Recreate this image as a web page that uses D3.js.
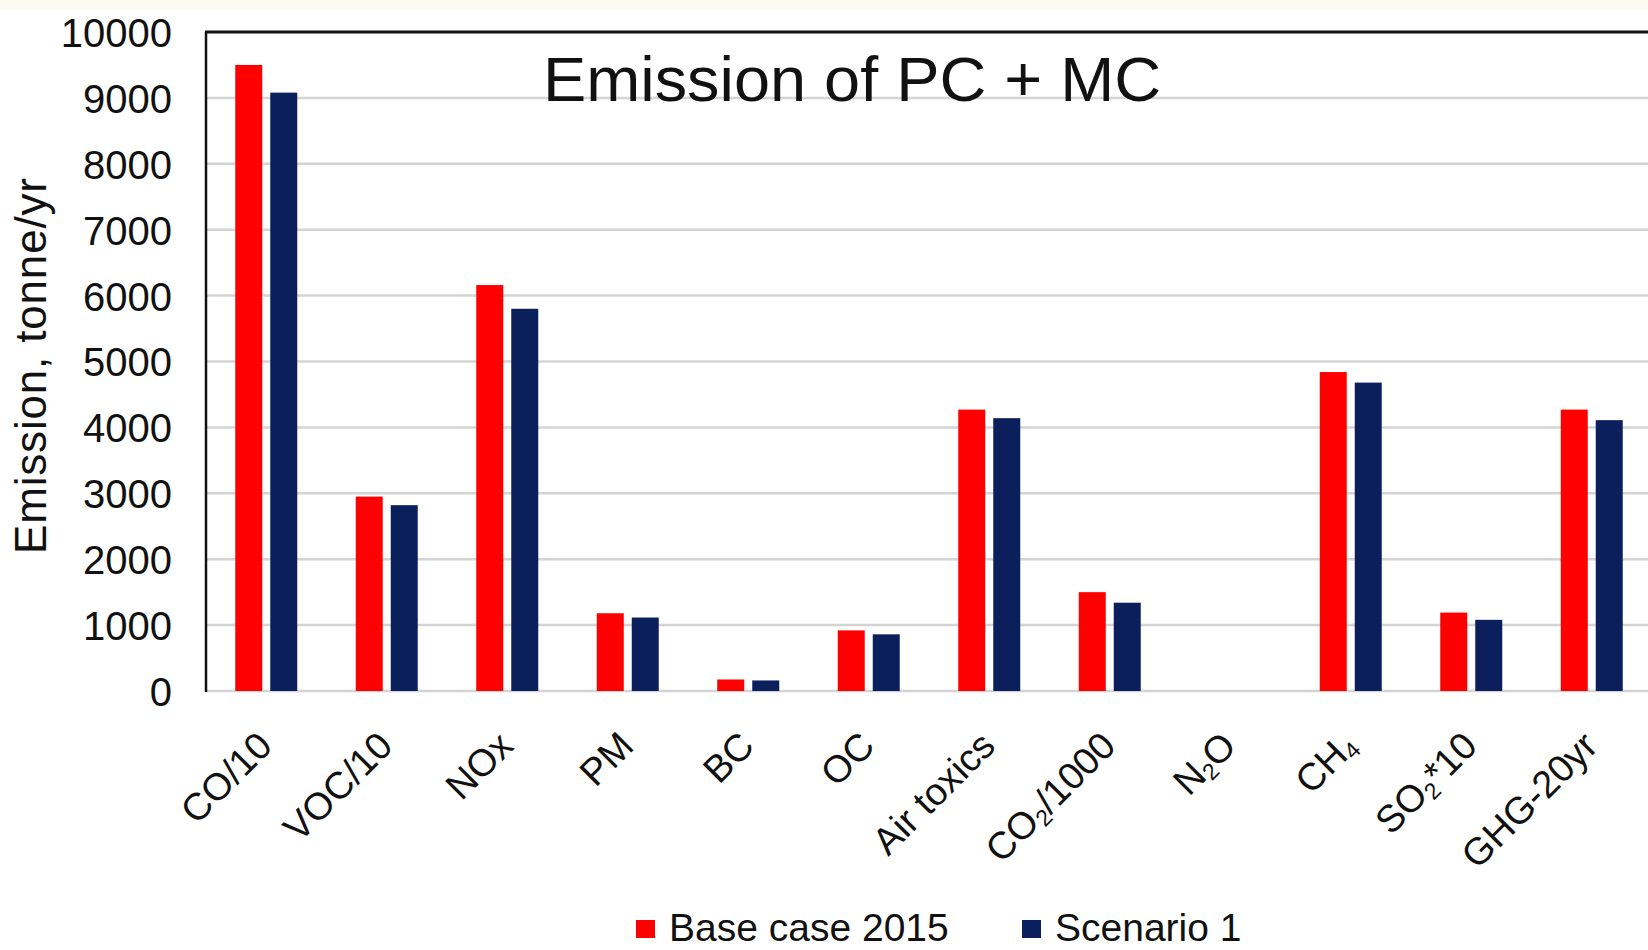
<!DOCTYPE html>
<html>
<head>
<meta charset="utf-8">
<script src="https://cdn.jsdelivr.net/npm/d3@7"></script>
<style>
  html, body { margin: 0; padding: 0; background: #ffffff; }
  svg { display: block; }
  text { font-family: "Liberation Sans", Arial, sans-serif; fill: #111; }
</style>
</head>
<body>
<svg id="chart" width="1648" height="950"></svg>
<script>
// ---- data ----
const categories = ["CO/10", "VOC/10", "NOx", "PM", "BC", "OC", "Air toxics", "CO_2/1000", "N_2O", "CH_4", "SO_2*10", "GHG-20yr"];
const seriesNames = ["Base case 2015", "Scenario 1"];
const baseCase2015 = [9500, 2950, 6160, 1180, 175, 920, 4270, 1500, 0, 4840, 1190, 4270];
const scenario1 = [9080, 2820, 5800, 1115, 160, 860, 4140, 1340, 0, 4680, 1080, 4110];
const yTicks = [0, 1000, 2000, 3000, 4000, 5000, 6000, 7000, 8000, 9000, 10000];
const colors = ["#ff0000", "#0b1f5c"];
const titleText = "Emission of PC + MC";
const yTitle = "Emission, tonne/yr";

const svg = d3.select("#chart");

// faint cream strip at the very top
svg.append("rect").attr("x", 0).attr("y", 0).attr("width", 1648).attr("height", 9).attr("fill", "#fcfaf1");

const left = 206, step = 120.5;
const x0 = d3.scaleBand().domain(categories).range([left, left + step * categories.length]).padding(0);
const x1 = d3.scaleBand().domain(seriesNames).range([0, x0.bandwidth()]).paddingInner(0.2286).paddingOuter(0.836);
const y = d3.scaleLinear().domain([0, 10000]).range([691, 32]);

// gridlines
svg.append("g").selectAll("line").data(yTicks.filter(t => t < 10000)).join("line")
  .attr("x1", left).attr("x2", 1660)
  .attr("y1", d => y(d)).attr("y2", d => y(d))
  .attr("stroke", "#d4d4d4").attr("stroke-width", 2.5);

// bars
const data = categories.map((c, i) => ({ cat: c, vals: [baseCase2015[i], scenario1[i]] }));
const groups = svg.append("g").selectAll("g").data(data).join("g")
  .attr("transform", d => `translate(${x0(d.cat)},0)`);
groups.selectAll("rect").data(d => d.vals.map((v, k) => ({ v, k })).filter(o => o.v > 0)).join("rect")
  .attr("x", o => x1(seriesNames[o.k]))
  .attr("width", x1.bandwidth())
  .attr("y", o => y(o.v))
  .attr("height", o => y(0) - y(o.v))
  .attr("fill", o => colors[o.k]);

// plot frame: top border (black), left axis
svg.append("line").attr("x1", left - 1).attr("x2", 1660).attr("y1", y(10000)).attr("y2", y(10000))
  .attr("stroke", "#111").attr("stroke-width", 3);
svg.append("line").attr("x1", left).attr("x2", left).attr("y1", y(10000)).attr("y2", y(0) + 1)
  .attr("stroke", "#111").attr("stroke-width", 2.5);

// y axis tick labels via d3 axis
const yAxis = d3.axisLeft(y).tickValues(yTicks).tickSize(0).tickPadding(0).tickFormat(d3.format("d"));
const yg = svg.append("g").attr("transform", "translate(172,0)").call(yAxis);
yg.select(".domain").remove();
yg.selectAll("text").attr("font-size", 40).attr("fill", "#1a1a1a")
  .style("font-family", '"Liberation Sans", Arial, sans-serif').attr("dy", "0.36em");

// x labels (rotated -45) with subscripts
const xl = svg.append("g");
categories.forEach(c => {
  const cx = x0(c) + x0.bandwidth() / 2;
  const t = xl.append("text")
    .attr("transform", `translate(${cx + 8},748) rotate(-45)`)
    .attr("text-anchor", "end").attr("font-size", 38).attr("fill", "#1a1a1a");
  const parts = c.split(/_(\d)/);
  parts.forEach((p, i) => {
    if (p === "") return;
    if (i % 2 === 1) {
      t.append("tspan").attr("font-size", 23).attr("dy", 5).text(p);
    } else {
      const ts = t.append("tspan").text(p);
      if (i > 0) ts.attr("dy", -5);
    }
  });
});

// title
svg.append("text").attr("x", 852).attr("y", 101).attr("text-anchor", "middle")
  .attr("font-size", 63).attr("fill", "#000").attr("textLength", 618).attr("lengthAdjust", "spacingAndGlyphs").text(titleText);

// y title
svg.append("text").attr("transform", "translate(46,366) rotate(-90)")
  .attr("text-anchor", "middle").attr("font-size", 44).attr("fill", "#1a1a1a")
  .attr("textLength", 376).attr("lengthAdjust", "spacing").text(yTitle);

// legend
const legendX = [636, 1022];
const lg = svg.append("g");
seriesNames.forEach((s, i) => {
  lg.append("rect").attr("x", legendX[i]).attr("y", 920).attr("width", 19).attr("height", 18).attr("fill", colors[i]);
  lg.append("text").attr("x", legendX[i] + 33).attr("y", 941).attr("font-size", 39).attr("fill", "#1a1a1a").text(s);
});
</script>
</body>
</html>
